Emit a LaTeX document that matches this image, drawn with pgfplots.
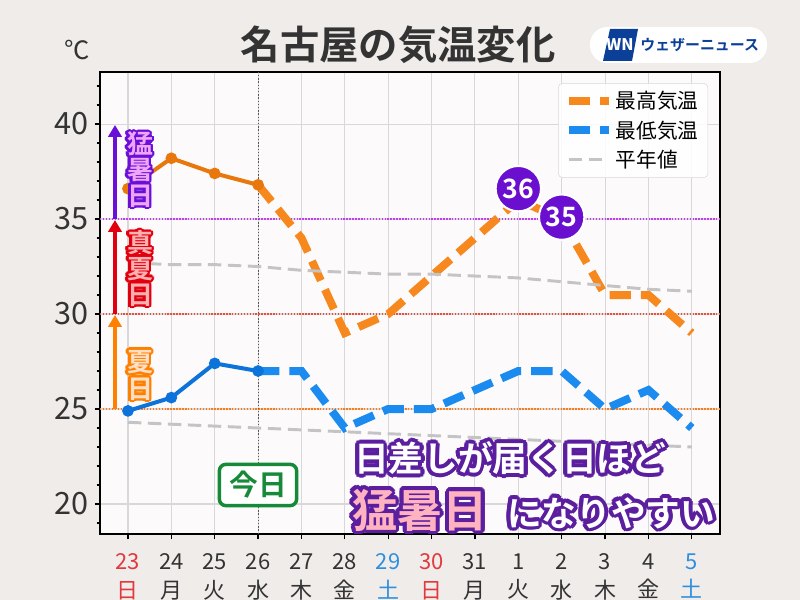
\documentclass[border=0pt]{standalone}
\usepackage{pgfplots}
\pgfplotsset{compat=1.18}
\usepackage{fontspec}
\setmainfont{Noto Sans CJK JP}[BoldFont={Noto Sans CJK JP Bold}]
\usetikzlibrary{arrows.meta}
\definecolor{bgc}{HTML}{EFECEA}
\definecolor{plotbg}{HTML}{FCFAFB}
\definecolor{gridc}{HTML}{D8D8D8}
\definecolor{maxsolid}{HTML}{E8780C}
\definecolor{maxdash}{HTML}{F7881E}
\definecolor{minsolid}{HTML}{0B73DA}
\definecolor{mindash}{HTML}{1C8BF0}
\definecolor{normc}{HTML}{C4C4C4}
\definecolor{thA}{HTML}{C43CF5}
\definecolor{thB}{HTML}{E8503C}
\definecolor{thC}{HTML}{FF7A10}
\definecolor{arrP}{HTML}{6A0FD8}
\definecolor{arrR}{HTML}{E00010}
\definecolor{arrO}{HTML}{FF8000}
\definecolor{fillP}{HTML}{F0A6F6}
\definecolor{fillR}{HTML}{FFB0B0}
\definecolor{fillO}{HTML}{FFE0C6}
\definecolor{bubble}{HTML}{6A0FD0}
\definecolor{txtP}{HTML}{5B1E9E}
\definecolor{pinkc}{HTML}{FFB3C1}
\definecolor{kyo}{HTML}{168A38}
\definecolor{logob}{HTML}{0B3F98}
\definecolor{tred}{HTML}{E0393E}
\definecolor{tblue}{HTML}{2E8FE0}
\definecolor{tgray}{HTML}{333333}
\newcommand\ol[7]{%
  \foreach \ang in {0,22.5,...,337.5}{\node[inner sep=0pt,font=#3,text=#4,shift={(\ang:#7)}] at (#1,#2) {#6};}%
  \node[inner sep=0pt,font=#3,text=#5] at (#1,#2) {#6};}
\begin{document}
\begin{tikzpicture}
\useasboundingbox (0,0) rectangle (600pt,450pt);
\fill[bgc] (0,0) rectangle (600pt,450pt);
\begin{axis}[
  at={(75pt,49.5pt)}, anchor=south west,
  scale only axis, width=465pt, height=346.5pt,
  xmin=-0.645, xmax=13.65, ymin=18.42, ymax=42.74,
  axis background/.style={fill=plotbg},
  axis line style={line width=1.6pt, black},
  xtick={0,...,13},
  xticklabels={{\textcolor{tred}{23}\\\textcolor{tred}{日}},{24\\月},{25\\火},{26\\水},{27\\木},{28\\金},{\textcolor{tblue}{29}\\\textcolor{tblue}{土}},{\textcolor{tred}{30}\\\textcolor{tred}{日}},{31\\月},{1\\火},{2\\水},{3\\木},{4\\金},{\textcolor{tblue}{5}\\\textcolor{tblue}{土}}},
  ytick={20,25,30,35,40}, minor ytick={19,...,42},
  tick pos=left, tick align=outside,
  major tick length=4pt, minor tick length=2.5pt,
  tick style={black, line width=0.9pt},
  grid=major, major grid style={gridc, line width=0.8pt},
  yticklabel style={font=\fontsize{23}{23}\selectfont, text=tgray, xshift=-1pt},
  xticklabel style={align=center, font=\fontsize{16.5}{21.5}\selectfont, text=tgray, yshift=-7pt},
  /pgf/number format/assume math mode=true,
  legend style={at={(rel axis cs:0.739,0.976)}, anchor=north west, draw=gridc, rounded corners=3pt,
    fill=white, fill opacity=0.85, text opacity=1, font=\fontsize{15.5}{18}\selectfont,
    row sep=3.5pt, inner xsep=5pt, inner ysep=4pt},
  legend cell align=left,
  legend image code/.code={\draw[#1] (0pt,0pt) -- (30pt,0pt);},
]
% thresholds
\addplot[thA, line width=1.1pt, dash pattern=on 1.1pt off 1.1pt, forget plot] coordinates {(-0.645,35) (13.65,35)};
\addplot[thB, line width=1.1pt, dash pattern=on 1.1pt off 1.1pt, forget plot] coordinates {(-0.645,30) (13.65,30)};
\addplot[thC, line width=1.1pt, dash pattern=on 1.1pt off 1.1pt, forget plot] coordinates {(-0.645,25) (13.65,25)};
\addplot[black!65, line width=0.8pt, dash pattern=on 1pt off 1.4pt, forget plot] coordinates {(3,18.42) (3,42.74)};
% max temp
\addplot[maxsolid, line width=3pt, mark=*, mark size=2.8pt, forget plot] coordinates {(0,36.6)(1,38.2)(2,37.4)(3,36.8)};
\addplot[maxdash, line width=6pt, dash pattern=on 16pt off 7.5pt] coordinates {(3,36.8)(4,34)(5,29)(6,30)(7,32)(8,34)(9,36)(10,35)(11,31)(12,31)(13,29)};
\addlegendentry{最高気温}
% min temp
\addplot[minsolid, line width=3pt, mark=*, mark size=2.8pt, forget plot] coordinates {(0,24.9)(1,25.6)(2,27.4)(3,27)};
\addplot[mindash, line width=6pt, dash pattern=on 16pt off 7.5pt] coordinates {(3,27)(4,27)(5,24)(6,25)(7,25)(8,26)(9,27)(10,27)(11,25)(12,26)(13,24)};
\addlegendentry{最低気温}
% normals
\addplot[normc, line width=2.2pt, dash pattern=on 10pt off 5pt] coordinates {(0,32.7)(1,32.6)(2,32.6)(3,32.5)(4,32.3)(5,32.2)(6,32.1)(7,32.1)(8,32.0)(9,31.9)(10,31.7)(11,31.5)(12,31.3)(13,31.2)};
\addlegendentry{平年値}
\addplot[normc, line width=2.2pt, dash pattern=on 10pt off 5pt, forget plot] coordinates {(0,24.3)(1,24.2)(2,24.1)(3,24.0)(4,23.9)(5,23.8)(6,23.7)(7,23.6)(8,23.5)(9,23.4)(10,23.3)(11,23.2)(12,23.1)(13,23.0)};
% bubbles
\node[circle, fill=bubble, draw=white, line width=1.5pt, minimum size=34pt, inner sep=0pt, text=white, font=\bfseries\fontsize{20}{20}\selectfont] at (axis cs:9,36.6) {36};
\node[circle, fill=bubble, draw=white, line width=1.5pt, minimum size=34pt, inner sep=0pt, text=white, font=\bfseries\fontsize{20}{20}\selectfont] at (axis cs:10,35.1) {35};
\end{axis}
\begin{scope}[x=0.75pt, y=-0.75pt, shift={(0pt,450pt)}]
% title
\node[font=\bfseries\fontsize{29.5}{29.5}\selectfont, text=tgray] at (398,45) {名古屋の気温変化};
\node[font=\fontsize{19}{19}\selectfont, text=tgray] at (77,50) {℃};
% logo
\fill[white, rounded corners=13pt] (590,27) rectangle (767,63);
\fill[logob] (610,29) -- (638,29) -- (632,61) -- (603,61) -- cycle;
\node[text=white, font=\bfseries\itshape\fontsize{12}{12}\selectfont] at (620,45) {WN};
\node[text=logob, font=\bfseries\fontsize{11.2}{11.2}\selectfont, anchor=west, inner sep=0pt] at (640,45) {ウェザーニュース};
% arrows
\draw[arrP, line width=3pt, -{Triangle[length=9pt, width=10pt]}] (115,219) -- (115,125);
\draw[arrR, line width=3pt, -{Triangle[length=9pt, width=10pt]}] (115,314) -- (115,220);
\draw[arrO, line width=3pt, -{Triangle[length=9pt, width=10pt]}] (115,409) -- (115,315);
% vertical labels
\ol{140}{144}{\bfseries\fontsize{19.5}{19.5}\selectfont}{arrP}{fillP}{猛}{1.8pt}
\ol{140}{170}{\bfseries\fontsize{19.5}{19.5}\selectfont}{arrP}{fillP}{暑}{1.8pt}
\ol{140}{196}{\bfseries\fontsize{19.5}{19.5}\selectfont}{arrP}{fillP}{日}{1.8pt}
\ol{140}{243}{\bfseries\fontsize{19.5}{19.5}\selectfont}{arrR}{fillR}{真}{1.8pt}
\ol{140}{269}{\bfseries\fontsize{19.5}{19.5}\selectfont}{arrR}{fillR}{夏}{1.8pt}
\ol{140}{295}{\bfseries\fontsize{19.5}{19.5}\selectfont}{arrR}{fillR}{日}{1.8pt}
\ol{140}{362}{\bfseries\fontsize{19.5}{19.5}\selectfont}{arrO}{fillO}{夏}{1.8pt}
\ol{140}{389}{\bfseries\fontsize{19.5}{19.5}\selectfont}{arrO}{fillO}{日}{1.8pt}
% today box
\node[draw=kyo, line width=2.6pt, rounded corners=5pt, fill=white, minimum width=58pt, minimum height=31pt, text=kyo, font=\bfseries\fontsize{21.5}{21.5}\selectfont] at (258,485) {今日};
% bottom message
\ol{510}{458}{\bfseries\fontsize{26}{26}\selectfont}{txtP}{white}{日差しが届く日ほど}{2.8pt}
\ol{420}{510}{\bfseries\fontsize{34}{34}\selectfont}{txtP}{pinkc}{猛暑日}{2.8pt}
\ol{611}{513}{\bfseries\fontsize{26}{26}\selectfont}{txtP}{white}{になりやすい}{2.8pt}
\end{scope}
\end{tikzpicture}
\end{document}
